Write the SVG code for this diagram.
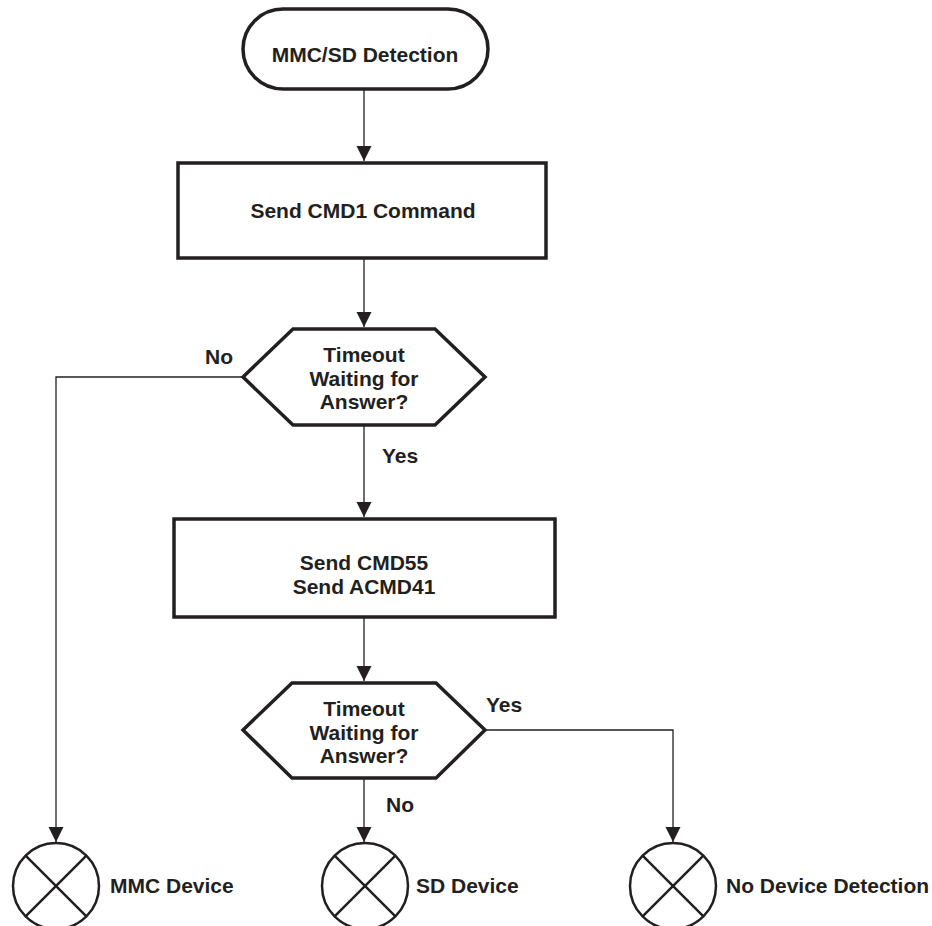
<svg xmlns="http://www.w3.org/2000/svg" width="932" height="926" viewBox="0 0 932 926">
  <style>
    .shape { fill: #ffffff; stroke: #231f20; stroke-width: 3.5; stroke-linejoin: miter; }
    .end { fill: #ffffff; stroke: #231f20; stroke-width: 2.5; }
    .cross { stroke: #231f20; stroke-width: 2.5; }
    .wire { fill: none; stroke: #231f20; stroke-width: 1.3; }
    text { font-family: "Liberation Sans", Arial, sans-serif; font-weight: bold; font-size: 21px; fill: #231f20; }
    .c { text-anchor: middle; }
  </style>
  <defs>
    <marker id="arrow" markerUnits="userSpaceOnUse" markerWidth="16" markerHeight="16" viewBox="0 0 16 16" refX="15" refY="8" orient="auto">
      <path d="M0,0.5 L15,8 L0,15.5 Z" fill="#231f20"/>
    </marker>
  </defs>

  <rect width="932" height="926" fill="#ffffff"/>

  <!-- connectors -->
  <g id="connectors">
    <path class="wire" d="M364,90 V161" marker-end="url(#arrow)"/>
    <path class="wire" d="M364,259 V327" marker-end="url(#arrow)"/>
    <path class="wire" d="M364,425 V517" marker-end="url(#arrow)"/>
    <path class="wire" d="M364,618 V681" marker-end="url(#arrow)"/>
    <path class="wire" d="M243,377 H56 V842" marker-end="url(#arrow)"/>
    <path class="wire" d="M364,778 V842" marker-end="url(#arrow)"/>
    <path class="wire" d="M485,730 H673 V842" marker-end="url(#arrow)"/>
    <text x="205" y="364">No</text>
    <text x="382" y="463">Yes</text>
    <text x="486" y="712">Yes</text>
    <text x="386" y="812">No</text>
  </g>

  <!-- start terminator -->
  <g id="start">
    <rect class="shape" x="243" y="9" width="245" height="80" rx="40" ry="40"/>
    <text class="c" x="365" y="62">MMC/SD Detection</text>
  </g>

  <!-- first command -->
  <g id="send-cmd1">
    <rect class="shape" x="178" y="163" width="368" height="95"/>
    <text class="c" x="363" y="218">Send CMD1 Command</text>
  </g>

  <!-- first decision -->
  <g id="timeout-1">
    <polygon class="shape" points="243,377 293,329 435,329 485,377 435,425 293,425"/>
    <text class="c" x="364" y="362">Timeout</text>
    <text class="c" x="364" y="386">Waiting for</text>
    <text class="c" x="364" y="409">Answer?</text>
  </g>

  <!-- second command -->
  <g id="send-cmd55">
    <rect class="shape" x="174" y="519" width="381" height="98"/>
    <text class="c" x="364" y="570">Send CMD55</text>
    <text class="c" x="364" y="594">Send ACMD41</text>
  </g>

  <!-- second decision -->
  <g id="timeout-2">
    <polygon class="shape" points="243,730 292,683 436,683 485,730 436,778 292,778"/>
    <text class="c" x="364" y="716">Timeout</text>
    <text class="c" x="364" y="740">Waiting for</text>
    <text class="c" x="364" y="763">Answer?</text>
  </g>

  <!-- end points -->
  <g id="mmc-device">
    <circle class="end" cx="56" cy="886" r="43"/>
    <path class="cross" d="M25.6,855.6 L86.4,916.4 M86.4,855.6 L25.6,916.4"/>
    <text x="110" y="893">MMC Device</text>
  </g>
  <g id="sd-device">
    <circle class="end" cx="365" cy="886" r="43"/>
    <path class="cross" d="M334.6,855.6 L395.4,916.4 M395.4,855.6 L334.6,916.4"/>
    <text x="416" y="893">SD Device</text>
  </g>
  <g id="no-device">
    <circle class="end" cx="673" cy="886" r="43"/>
    <path class="cross" d="M642.6,855.6 L703.4,916.4 M703.4,855.6 L642.6,916.4"/>
    <text x="726" y="893">No Device Detection</text>
  </g>
</svg>
